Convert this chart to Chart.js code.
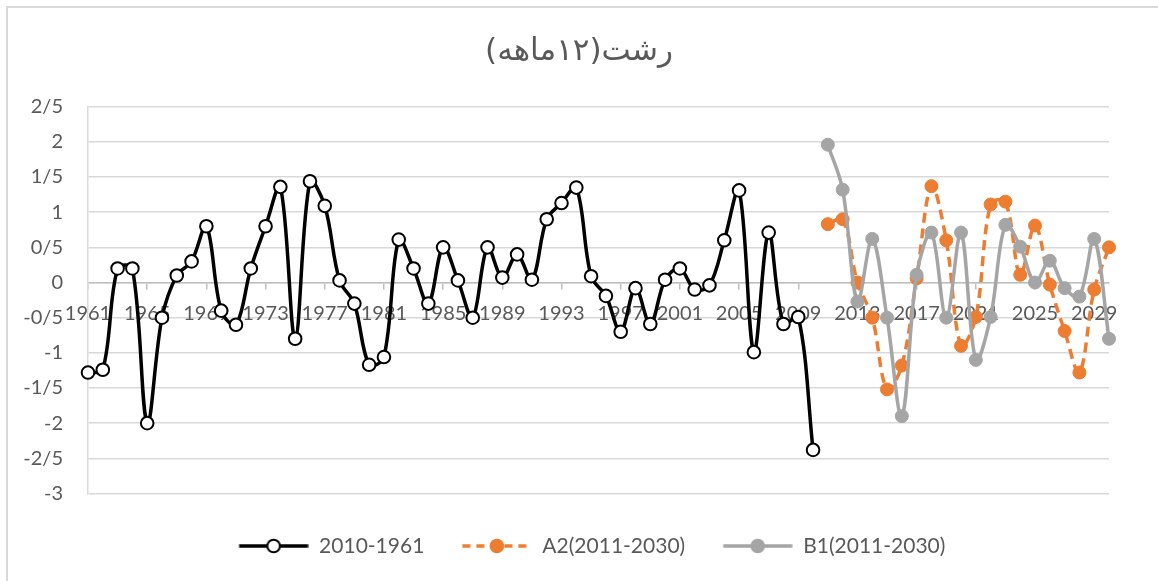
<!DOCTYPE html>
<html><head><meta charset="utf-8">
<script src="https://cdn.jsdelivr.net/npm/chart.js@4"></script>
<style>
html,body{margin:0;padding:0;background:#fff;}
#wrap{position:relative;width:1158px;height:581px;overflow:hidden;}
#frame{position:absolute;left:6px;top:6px;right:-4px;bottom:-4px;border-top:2px solid #d9d9d9;border-left:2px solid #d9d9d9;pointer-events:none;}
canvas{display:block;}
</style></head><body>
<div id="wrap"><canvas id="c" width="1158" height="581"></canvas><div id="frame"></div></div>
<script>
const years = [1961,1962,1963,1964,1965,1966,1967,1968,1969,1970,1971,1972,1973,1974,1975,1976,1977,1978,1979,1980,
  1981,1982,1983,1984,1985,1986,1987,1988,1989,1990,1991,1992,1993,1994,1995,1996,1997,1998,1999,2000,
  2001,2002,2003,2004,2005,2006,2007,2008,2009,2010,2011,2012,2013,2014,2015,2016,2017,2018,2019,2020,
  2021,2022,2023,2024,2025,2026,2027,2028,2029,2030];

// observed 1961-2010
const observed = [-1.28,-1.24,0.2,0.2,-2,-0.5,0.1,0.3,0.8,-0.4,-0.6,0.2,0.8,1.36,-0.8,1.44,1.09,0.03,-0.3,-1.17,
  -1.06,0.61,0.2,-0.3,0.5,0.03,-0.5,0.5,0.07,0.4,0.04,0.9,1.13,1.35,0.09,-0.19,-0.7,-0.08,-0.59,0.04,
  0.2,-0.1,-0.04,0.6,1.31,-0.99,0.71,-0.59,-0.49,-2.38];
// scenarios 2011-2030
const scenarioA2 = [0.83,0.9,0,-0.5,-1.52,-1.18,0.06,1.37,0.6,-0.9,-0.49,1.11,1.15,0.11,0.81,-0.03,-0.69,-1.28,-0.1,0.5];
const scenarioB1 = [1.96,1.32,-0.27,0.62,-0.5,-1.9,0.11,0.71,-0.5,0.71,-1.1,-0.49,0.82,0.51,0,0.31,-0.08,-0.2,0.62,-0.8];

const seriesNames = ['2010-1961','A2(2011-2030)','B1(2011-2030)'];
const yTickValues = [2.5,2,1.5,1,0.5,0,-0.5,-1,-1.5,-2,-2.5,-3];
const yTickLabels = ['2/5','2','1/5','1','0/5','0','-0/5','-1','-1/5','-2','-2/5','-3'];
const titleText = 'رشت(١٢ماهه)';

const firstFuture = observed.length;
const obsData = years.map((y,i) => i < observed.length ? observed[i] : null);
const a2Data = years.map((y,i) => i >= firstFuture ? scenarioA2[i-firstFuture] : null);
const b1Data = years.map((y,i) => i >= firstFuture ? scenarioB1[i-firstFuture] : null);

const BLACK = '#000000', ORANGE = '#ED7D31', GRAY = '#A5A5A5', TEXT = '#595959';
const FONT = 'Lato, "Open Sans", "DejaVu Sans", sans-serif';

const LEAD = 26.5, SAMPLE_W = 69;
function makeSample(color, dash, fill, stroke) {
  const W = LEAD + SAMPLE_W, H = 20;
  const cv = document.createElement('canvas');
  cv.width = Math.round(W); cv.height = H;
  const g = cv.getContext('2d');
  g.strokeStyle = color; g.lineWidth = 3.5; g.setLineDash(dash);
  g.beginPath(); g.moveTo(LEAD, H/2); g.lineTo(W, H/2); g.stroke();
  g.setLineDash([]);
  g.beginPath(); g.arc(LEAD + SAMPLE_W/2, H/2, 6.3, 0, Math.PI*2);
  g.fillStyle = fill; g.fill();
  g.lineWidth = 2; g.strokeStyle = stroke; g.stroke();
  return cv;
}
const samples = [
  makeSample(BLACK, [], '#ffffff', BLACK),
  makeSample(ORANGE, [8,6], ORANGE, ORANGE),
  makeSample(GRAY, [], GRAY, GRAY)
];

new Chart(document.getElementById('c'), {
  type: 'line',
  data: {
    labels: years,
    datasets: [
      { label: seriesNames[0], data: obsData, borderColor: BLACK, borderWidth: 3.5,
        pointStyle: 'circle', pointRadius: 6.3, pointBackgroundColor: '#ffffff', pointBorderColor: BLACK, pointBorderWidth: 2,
        tension: 0.35, order: 0, xAxisID: 'x', yAxisID: 'y' },
      { label: seriesNames[1], data: a2Data, borderColor: ORANGE, borderWidth: 3.5, borderDash: [10,6],
        pointStyle: 'circle', pointRadius: 6.5, pointBackgroundColor: ORANGE, pointBorderColor: ORANGE, pointBorderWidth: 1,
        tension: 0.35, order: 2, xAxisID: 'x', yAxisID: 'y' },
      { label: seriesNames[2], data: b1Data, borderColor: GRAY, borderWidth: 3.5,
        pointStyle: 'circle', pointRadius: 6.5, pointBackgroundColor: GRAY, pointBorderColor: GRAY, pointBorderWidth: 1,
        tension: 0.35, order: 1, xAxisID: 'x', yAxisID: 'y' }
    ]
  },
  options: {
    responsive: false,
    animation: false,
    layout: { padding: { left: 0, right: 0, top: 0, bottom: 14.5 } },
    plugins: {
      tooltip: { enabled: false },
      title: {
        display: true, text: titleText, color: TEXT,
        font: { family: '"DejaVu Sans", sans-serif', size: 31, weight: 'normal', lineHeight: 1.2 },
        padding: { top: 33.4, bottom: 36.1 }
      },
      legend: {
        position: 'bottom',
        labels: {
          usePointStyle: true, pointStyleWidth: Math.round(LEAD + SAMPLE_W), boxHeight: 21, padding: 11.5,
          color: TEXT, font: { family: FONT, size: 21 },
          generateLabels: (chart) => chart.data.datasets.map((ds, i) => ({
            text: ds.label, datasetIndex: i, hidden: false, pointStyle: samples[i],
            fillStyle: 'transparent', strokeStyle: 'transparent', lineWidth: 0, fontColor: TEXT
          }))
        }
      }
    },
    scales: {
      x: {
        type: 'category',
        position: { y: 0 },
        offset: false,
        grid: {
          display: true, drawOnChartArea: false, drawTicks: true, tickLength: 6, lineWidth: 1.5,
          color: (c) => (c.index % 4 === 0 ? '#bfbfbf' : 'rgba(0,0,0,0)')
        },
        border: { display: true, color: '#bfbfbf', width: 1.5 },
        ticks: {
          autoSkip: false, maxRotation: 0, minRotation: 0, padding: 13, color: TEXT,
          font: { family: FONT, size: 20 },
          callback: (v, i) => (i % 4 === 0 ? String(years[i]) : '')
        }
      },
      xSpace: {
        type: 'linear', axis: 'x', position: 'bottom', display: true,
        grid: { display: false }, border: { display: false }, ticks: { display: false },
        afterFit: (s) => { s.height = 30.5; }
      },
      y: {
        position: 'left',
        min: -3, max: 2.5,
        grid: { color: '#d9d9d9', lineWidth: 1.5, drawTicks: false },
        border: { display: true, color: '#d9d9d9', width: 1.5 },
        ticks: {
          stepSize: 0.5, padding: 25, color: TEXT, font: { family: FONT, size: 20 },
          callback: (v) => {
            const k = yTickValues.findIndex(t => Math.abs(t - v) < 1e-6);
            return k >= 0 ? yTickLabels[k] : '';
          }
        },
        afterFit: (s) => { s.width = 88; }
      },
      yRight: {
        type: 'linear', axis: 'y', position: 'right', display: true,
        grid: { display: false }, border: { display: false }, ticks: { display: false },
        afterFit: (s) => { s.width = 49; }
      }
    }
  }
});
</script>
</body></html>
